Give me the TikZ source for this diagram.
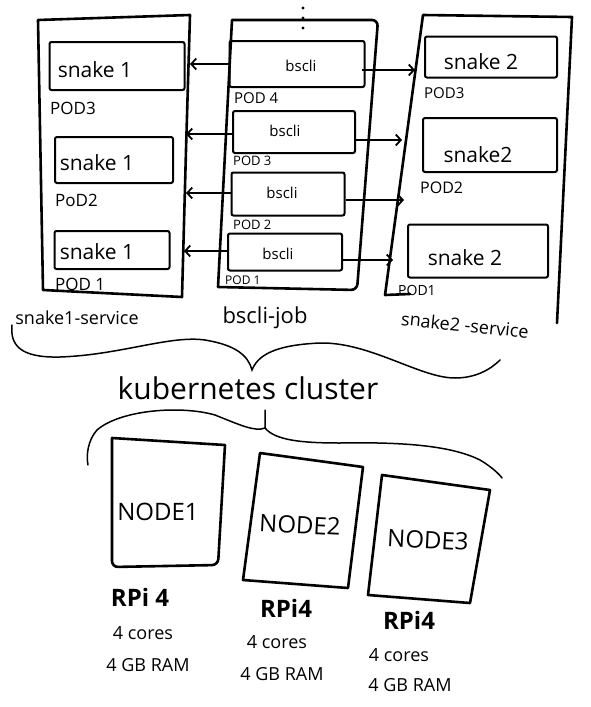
\documentclass[tikz,border=0pt]{standalone}
\usepackage{fontspec}
\setmainfont{Open Sans}
\usetikzlibrary{arrows.meta}
\newcommand{\fsz}[1]{\fontsize{#1}{#1}\selectfont}
\begin{document}
\begin{tikzpicture}[x=1pt,y=-1pt,
  container/.style={line width=2.6pt, line join=round, line cap=round},
  pod/.style={draw, line width=2pt, rounded corners=2pt, inner sep=0pt},
  podtxt/.style={inner sep=0pt, font=\fsz{21}},
  bstxt/.style={inner sep=0pt, font=\fsz{15}},
  podlbl/.style={inner sep=0pt, anchor=west, font=\fsz{17}},
  smalllbl/.style={inner sep=0pt, anchor=west, font=\fsz{13}},
  svclbl/.style={inner sep=0pt, font=\fsz{18}},
  conn/.style={line width=1.8pt, -{Straight Barb[length=5pt,width=11pt]}},
  brace/.style={line width=1.5pt, line cap=round},
  hwbox/.style={line width=2.6pt, line join=round, line cap=round},
  nodetxt/.style={inner sep=0pt, font=\fsz{24}},
  rpi/.style={inner sep=0pt, font=\fsz{24}\bfseries},
  spec/.style={inner sep=0pt, font=\fsz{18}},
]
\useasboundingbox (0,0) rectangle (590,707);

% ---------- containers ----------
\draw[container] (38,20) -- (190,15) -- (186,150) -- (182,297) -- (43,290) -- cycle;
\draw[container] (218,287) -- (232,20) [rounded corners=6pt] -- (378,20) -- (357,290) -- (218,287);
\draw[container] (410,294) -- (385,295) -- (423,15) -- (572,17) -- (557,323);
\fill (303,8) circle (1.6pt) (303,18) circle (1.6pt) (303,28) circle (1.6pt);

% ---------- snake1 pods ----------
\node[pod, minimum width=135pt, minimum height=48pt] (s1p3) at (117,66) {};
\node[podtxt] (s1p3t) at (95,70) {snake 1};
\node[podlbl] (s1p3l) at (50,108) {POD3};
\node[pod, minimum width=118pt, minimum height=46pt] (s1p2) at (114,160) {};
\node[podtxt] (s1p2t) at (97,163) {snake 1};
\node[podlbl] (s1p2l) at (55,200) {PoD2};
\node[pod, minimum width=115pt, minimum height=38pt] (s1p1) at (112,250) {};
\node[podtxt] (s1p1t) at (97,252) {snake 1};
\node[podlbl] (s1p1l) at (55,284) {POD 1};
\node[svclbl] (s1svc) at (77,318) {snake1-service};

% ---------- bscli pods ----------
\node[pod, minimum width=135pt, minimum height=46pt] (b4) at (297,64) {};
\node[bstxt] (b4t) at (301,66) {bscli};
\node[smalllbl, font=\fsz{15}] (b4l) at (234,98) {POD 4};
\node[pod, minimum width=122pt, minimum height=42pt] (b3) at (294,132) {};
\node[bstxt] (b3t) at (285,131) {bscli};
\node[smalllbl] (b3l) at (233,161) {POD 3};
\node[pod, minimum width=113pt, minimum height=43pt] (b2) at (288,194) {};
\node[bstxt] (b2t) at (282,193) {bscli};
\node[smalllbl] (b2l) at (233,225) {POD 2};
\node[pod, minimum width=114pt, minimum height=37pt] (b1) at (285,252) {};
\node[bstxt] (b1t) at (278,254) {bscli};
\node[smalllbl, font=\fsz{12}] (b1l) at (225,280) {POD 1};
\node[svclbl, font=\fsz{22}] (bjob) at (265,318) {bscli-job};

% ---------- snake2 pods ----------
\node[pod, minimum width=132pt, minimum height=41pt] (s2p3) at (491,57) {};
\node[podtxt] (s2p3t) at (481,62) {snake 2};
\node[podlbl, font=\fsz{15}] (s2p3l) at (424,93) {POD3};
\node[pod, minimum width=134pt, minimum height=54pt] (s2p2) at (490,145) {};
\node[podtxt] (s2p2t) at (478,155) {snake2};
\node[podlbl, font=\fsz{16}] (s2p2l) at (420,188) {POD2};
\node[pod, minimum width=140pt, minimum height=53pt] (s2p1) at (478,251) {};
\node[podtxt] (s2p1t) at (465,258) {snake 2};
\node[podlbl, font=\fsz{14}] (s2p1l) at (398,290) {POD1};
\node[svclbl, rotate=-6] (s2svc) at (465,325) {snake2 -service};

% ---------- arrows ----------
\coordinate (L1) at (190,64);
\coordinate (L2) at (186,134);
\coordinate (L3) at (186,193);
\coordinate (L4) at (184,251);
\draw[conn] (b4.west |- L1) -- (L1);
\draw[conn] (b3.west |- L2) -- (L2);
\draw[conn] (b2.west |- L3) -- (L3);
\draw[conn] (b1.west |- L4) -- (L4);
\coordinate (R1) at (415,70);
\coordinate (R2) at (402,140);
\coordinate (R3) at (404,200);
\coordinate (R4) at (393,260);
\draw[conn] (362,70) -- (R1);
\draw[conn] (b3.east |- R2) -- (R2);
\draw[conn] (b2.east |- R3) -- (R3);
\draw[conn] (b1.east |- R4) -- (R4);

% ---------- braces ----------
\draw[brace] (12,325) .. controls (10,345) and (20,358) .. (60,357)
  .. controls (120,355) and (170,335) .. (205,340)
  .. controls (235,345) and (248,355) .. (252,370)
  .. controls (258,355) and (275,345) .. (320,343)
  .. controls (370,342) and (420,378) .. (455,378)
  .. controls (475,378) and (490,370) .. (500,360);
\node[inner sep=0pt, font=\fsz{30}] (k8s) at (248,388) {kubernetes cluster};
\draw[brace] (265,410) -- (265,428)
  .. controls (255,432) and (240,425) .. (215,415)
  .. controls (180,405) and (120,410) .. (97,430)
  .. controls (88,440) and (86,455) .. (88,465);
\draw[brace] (265,428) .. controls (275,440) and (300,443) .. (340,443)
  .. controls (400,442) and (450,445) .. (480,460)
  .. controls (492,467) and (500,475) .. (502,478);

% ---------- nodes ----------
\draw[hwbox] (112,438) -- (225,445) [rounded corners=6pt] -- (218,565) -- (112,567) [sharp corners] -- cycle;
\node[nodetxt] (n1) at (158,512) {NODE1};
\draw[hwbox] (260,453) -- (363,467) -- (348,588) -- (243,580) -- cycle;
\node[nodetxt, rotate=-3] (n2) at (300,525) {NODE2};
\draw[hwbox] (382,475) -- (490,490) -- (470,603) -- (368,595) -- cycle;
\node[nodetxt, rotate=-3] (n3) at (428,540) {NODE3};

\node[rpi] (r1) at (140,597) {RPi 4};
\node[spec] (c1) at (143,633) {4 cores};
\node[spec] (m1) at (148,665) {4 GB RAM};
\node[rpi] (r2) at (286,608) {RPi4};
\node[spec] (c2) at (277,642) {4 cores};
\node[spec] (m2) at (282,674) {4 GB RAM};
\node[rpi] (r3) at (409,620) {RPi4};
\node[spec] (c3) at (399,655) {4 cores};
\node[spec] (m3) at (410,685) {4 GB RAM};
\end{tikzpicture}
\end{document}
